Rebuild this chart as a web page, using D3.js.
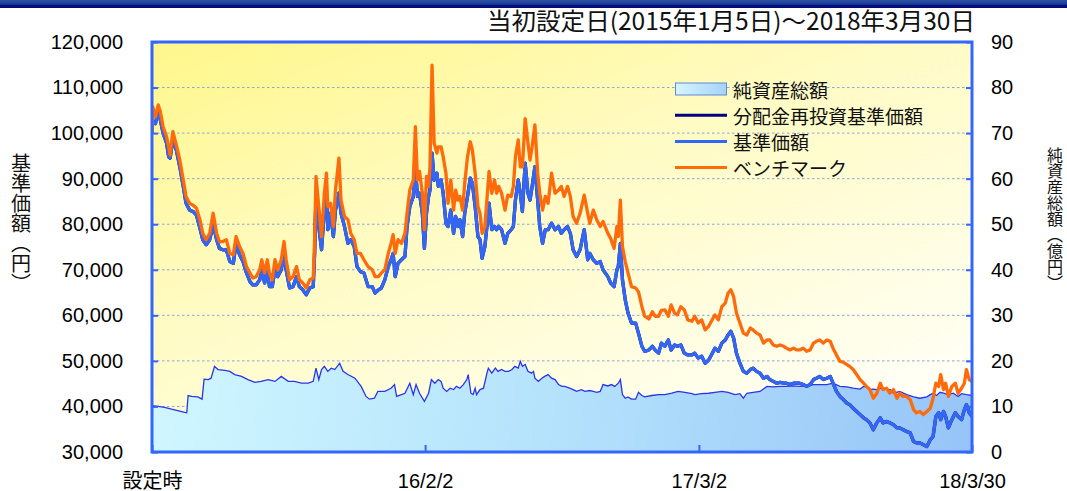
<!DOCTYPE html>
<html>
<head>
<meta charset="utf-8">
<script src="https://cdn.jsdelivr.net/npm/d3@7"></script>
<style>
  body { margin: 0; background: #ffffff; }
  svg { display: block; }
</style>
</head>
<body>
<svg id="chart" width="1067" height="491"></svg>
<script>
// ---- Data -----------------------------------------------------------------
const launchDate = "2015-01-05";
const titleText = "当初設定日(2015年1月5日)～2018年3月30日";
const seriesNames = ["純資産総額", "分配金再投資基準価額", "基準価額", "ベンチマーク"];
const leftTitle = "基準価額（円）";
const rightTitle = "純資産総額（億円）";

const xTickDates = ["2015-01-05", "2016-02-02", "2017-03-02", "2018-03-30"];
const xTickLabels = ["設定時", "16/2/2", "17/3/2", "18/3/30"];
const priceTicks = [30000, 40000, 50000, 60000, 70000, 80000, 90000, 100000, 110000, 120000];
const assetTicks = [0, 10, 20, 30, 40, 50, 60, 70, 80, 90];

// days since launch for the price series
const priceDays = [
  0,1,5,9,12,16,21,24,26,30,
  35,40,45,49,54,59,64,69,73,78,
  83,88,93,97,102,107,112,117,121,126,
  131,136,141,145,150,155,158,162,166,169,
  173,177,181,186,190,193,198,203,208,212,
  217,222,227,232,234,236,240,244,248,251,
  253,257,261,264,269,272,277,282,286,291,
  295,300,305,311,317,321,326,330,335,340,
  344,347,350,354,359,364,367,371,376,379,
  382,385,389,392,395,398,400,403,406,410,
  412,416,419,423,426,430,434,437,440,443,
  447,450,454,458,461,465,469,472,475,479,
  483,485,489,493,496,499,503,508,512,517,
  520,523,527,530,533,537,541,544,547,551,
  555,558,562,566,570,575,580,585,589,593,
  598,602,606,611,616,622,627,630,635,640,
  645,649,656,660,665,669,671,674,677,681,
  685,690,696,700,705,709,715,720,724,729,
  733,738,743,747,752,756,761,766,771,777,
  781,786,791,796,801,805,810,815,820,825,
  829,833,837,841,846,851,856,861,865,870,
  875,880,885,889,894,899,904,909,913,918,
  923,928,932,937,942,947,952,956,961,966,
  971,976,980,985,990,995,1000,1004,1009,1014,
  1019,1024,1028,1033,1038,1043,1048,1052,1057,1062,
  1067,1072,1076,1081,1086,1091,1096,1100,1105,1110,
  1115,1120,1124,1128,1132,1135,1139,1142,1146,1151,
  1156,1160,1165,1169,1172,1176,1180
];

// ベンチマーク (円)
const benchmark = [
  100000,105800,103600,106200,104700,101400,99200,97000,95200,100300,
  97400,94100,89700,86100,84600,84200,83500,81000,78000,76600,
  78000,82400,78000,76200,76200,76600,73600,73300,77300,75100,
  73600,70700,69300,68200,68500,70000,72200,69300,72200,69300,
  67800,72200,70000,72200,76200,72200,67800,68500,70700,67800,
  67100,66000,67800,68200,76600,90500,83900,77300,86800,91200,
  83900,84600,79500,87500,94500,85300,81700,81000,78000,76600,
  73600,73600,72200,70700,70000,68500,68500,69300,70000,73600,
  75800,77700,73600,76600,75800,78000,82400,87500,89700,101400,
  89700,91600,86800,78800,90500,88300,92600,114900,97800,95600,
  97000,97000,94800,91200,84600,89700,83100,87500,85300,86100,
  83100,89000,94800,98100,96300,91200,83900,82400,78000,79500,
  87500,91600,86800,89700,86800,88300,86800,83100,86400,86100,
  88300,94800,98500,92600,92600,103200,97800,94100,97000,101800,
  91200,86800,83100,86100,84600,91200,86800,87500,88300,86100,
  88300,86100,81700,80200,82400,86400,82400,80200,83100,81000,
  79500,80600,78000,76900,74700,79500,77300,85300,75100,71800,
  69300,66300,66000,65200,61900,59800,59200,60800,59800,59800,
  61100,61200,59800,62300,60500,60100,61900,61200,59000,58700,
  59800,58300,59000,56800,57600,58700,60100,59000,61900,62700,
  64900,65600,64100,60500,58300,56100,55700,57200,56800,56100,
  55700,53900,54600,54600,53500,53200,53500,53200,52800,52400,
  52800,52400,52400,52800,52100,52400,53900,54300,54600,53900,
  54600,54300,52800,51300,49900,49700,49200,48800,48100,47000,
  45900,45100,44400,43700,41800,42900,45100,43700,44000,42900,
  43700,41800,42900,42200,42200,41500,39300,38600,38900,38200,
  38900,39600,41800,45100,44400,47000,43700,45100,42200,44400,
  45100,42900,44000,45100,48100,45900,45500
];

// 基準価額 (円)
const nav = [
  100000,102500,102100,105100,102900,100000,97800,94800,94500,98500,
  96300,92600,88300,84600,83100,82800,82000,79100,76600,75500,
  76600,79900,76600,74700,74400,74400,71800,71400,75800,73300,
  71800,69300,67400,66700,66700,67800,70000,67100,69600,66300,
  66300,70000,68500,70000,73600,70000,66000,66300,68500,66300,
  65600,64500,66000,66300,73600,86800,79500,74400,83100,86100,
  78800,82400,77300,83100,86800,82400,79500,75800,76600,75100,
  70700,69600,69300,66300,66300,64900,65600,66000,67800,70700,
  72200,73600,68500,71400,72200,72900,79500,83900,86100,92600,
  86100,86800,82400,74700,82400,86100,87500,95600,89700,91200,
  88300,89700,86800,80200,79500,83100,78000,81700,79500,81000,
  77300,82400,86100,90100,89000,83900,77300,76600,72500,75100,
  81000,84600,78800,79500,78800,79500,78800,75800,78000,78800,
  79500,85300,89700,86800,82800,93400,86800,85300,88300,92600,
  85300,79500,75800,78800,78800,80200,78800,79500,78000,78800,
  79500,78000,74400,72900,74400,78800,72200,73600,72200,71400,
  71800,70000,68500,67100,66300,70000,70700,75800,67800,63400,
  60500,58300,58300,56100,53200,52100,52400,53200,52400,51700,
  53900,53200,54600,52400,53500,53200,53500,51700,51300,51300,
  51700,50600,51000,49500,50200,51300,52800,52100,53900,54600,
  55700,56500,55000,51700,49500,47700,47300,48100,48400,47700,
  47300,46200,46600,45900,45500,45100,45300,45100,45100,44800,
  45100,45100,45100,44800,44400,44800,45900,46200,46600,45900,
  46200,46600,45100,43300,42200,41500,40700,40400,39600,38900,
  38200,37500,37100,36400,34900,36400,37500,36400,36700,36400,
  36000,35300,35300,34900,34500,34200,32300,32000,32000,31600,
  31200,32700,33400,37800,38600,37100,38900,37800,35300,37100,
  38600,37800,37100,39300,40400,38600,37800
];

// 分配金再投資基準価額: no distributions were paid, so it equals the NAV
const navReinvested = nav.slice();

// days since launch for net assets
const assetDays = [
  0,9,18,28,37,47,50,52,57,66,
  72,75,81,85,90,95,105,112,119,129,
  138,148,157,167,177,186,196,205,215,225,
  232,236,240,244,248,253,258,263,270,275,
  282,292,301,308,313,320,325,335,344,349,
  352,359,364,371,376,380,385,392,398,402,
  407,412,416,419,424,429,434,438,443,448,
  453,455,459,462,465,467,472,477,482,484,
  489,494,498,503,508,513,518,522,527,530,
  533,537,541,546,549,551,556,561,565,570,
  575,580,585,590,594,601,606,611,618,623,
  630,635,640,645,649,656,661,666,671,674,
  677,681,685,690,696,700,705,709,719,729,
  738,748,757,767,777,781,791,801,810,820,
  829,839,846,851,856,865,875,885,894,904,
  913,923,932,942,952,961,971,980,990,1000,
  1009,1019,1024,1028,1033,1038,1043,1048,1052,1057,
  1062,1067,1076,1086,1096,1105,1115,1120,1124,1129,
  1134,1139,1146,1153,1160,1165,1172,1180
];

// 純資産総額 (億円)
const netAssets = [
  10.2,10.0,9.8,9.4,9.1,8.7,8.6,12.4,12.2,12.1,
  11.6,16.0,15.9,16.2,18.8,18.1,17.9,17.7,17.0,16.6,
  15.9,15.3,15.5,15.9,15.5,16.6,15.5,15.5,15.1,15.1,
  15.5,18.4,15.9,18.1,18.8,17.7,18.4,18.1,19.5,17.7,
  17.0,16.2,14.4,12.2,11.6,11.8,13.3,13.3,14.0,14.8,
  12.2,12.6,12.9,15.1,12.6,14.8,12.9,11.1,12.9,15.9,
  15.1,15.9,15.5,14.0,13.3,14.0,13.7,14.4,14.0,14.8,
  15.9,17.0,12.9,12.6,14.0,12.6,13.7,14.0,17.3,18.4,
  17.3,18.4,17.7,18.1,17.7,17.7,18.1,18.8,18.4,19.9,
  18.8,19.2,17.7,17.3,17.7,16.2,15.5,16.2,16.6,17.0,
  16.2,15.9,14.8,14.4,14.4,14.0,13.7,13.3,13.7,13.3,
  13.5,13.3,13.1,13.3,14.8,14.5,14.8,14.4,15.1,15.9,
  12.6,11.8,12.1,11.6,11.6,13.1,12.4,12.1,12.4,12.6,
  12.6,12.9,13.3,13.1,12.8,12.6,12.8,12.9,13.1,13.3,
  13.1,12.6,12.8,11.8,12.9,13.1,13.3,14.4,14.3,14.4,
  14.4,14.5,14.4,14.5,14.8,14.8,14.8,15.1,14.4,14.3,
  14.0,13.8,14.4,14.3,13.7,13.8,13.7,14.0,13.7,13.8,
  13.7,12.9,13.3,12.6,12.1,11.8,12.1,12.6,12.9,12.4,
  13.1,12.9,12.6,12.9,12.2,12.8,12.6,12.4
];

// ---- Setup ----------------------------------------------------------------
const svg = d3.select("#chart");
const plot = { left: 152, right: 972, top: 42, bottom: 452 };
const JP = "'Noto Sans CJK JP', sans-serif";
const NUM = "'Liberation Sans', Arial, 'Noto Sans CJK JP', sans-serif";

const launch = new Date(launchDate + "T00:00:00Z");
const toDate = d => d3.utcDay.offset(launch, d);
const tickDates = xTickDates.map(s => new Date(s + "T00:00:00Z"));

const x = d3.scaleUtc()
  .domain([tickDates[0], tickDates[tickDates.length - 1]])
  .range([plot.left, plot.right]);
const y = d3.scaleLinear()
  .domain([priceTicks[0], priceTicks[priceTicks.length - 1]])
  .range([plot.bottom, plot.top]);
const y2 = d3.scaleLinear()
  .domain([assetTicks[0], assetTicks[assetTicks.length - 1]])
  .range([plot.bottom, plot.top]);

const priceRows = values => priceDays.map((d, i) => ({ date: toDate(d), v: values[i] }));
const assetRows = assetDays.map((d, i) => ({ date: toDate(d), v: netAssets[i] }));

// ---- Defs -----------------------------------------------------------------
const defs = svg.append("defs");

const bg = defs.append("linearGradient").attr("id", "plotBg")
  .attr("x1", 0).attr("y1", 0).attr("x2", 0.75).attr("y2", 1);
bg.append("stop").attr("offset", 0).attr("stop-color", "#fff78a");
bg.append("stop").attr("offset", 0.45).attr("stop-color", "#fffbc4");
bg.append("stop").attr("offset", 1).attr("stop-color", "#fffff6");

const af = defs.append("linearGradient").attr("id", "assetFill")
  .attr("gradientUnits", "userSpaceOnUse")
  .attr("x1", plot.left).attr("y1", 360).attr("x2", plot.right).attr("y2", plot.bottom);
af.append("stop").attr("offset", 0).attr("stop-color", "#d0f7ff");
af.append("stop").attr("offset", 0.5).attr("stop-color", "#b4e2fc");
af.append("stop").attr("offset", 1).attr("stop-color", "#96c4f7");

const sw = defs.append("linearGradient").attr("id", "swatchFill")
  .attr("x1", 0).attr("y1", 0).attr("x2", 1).attr("y2", 0);
sw.append("stop").attr("offset", 0).attr("stop-color", "#d6f6ff");
sw.append("stop").attr("offset", 1).attr("stop-color", "#a6d2f8");

const tb = defs.append("linearGradient").attr("id", "topBar")
  .attr("x1", 0).attr("y1", 0).attr("x2", 0).attr("y2", 1);
tb.append("stop").attr("offset", 0).attr("stop-color", "#2d52a6");
tb.append("stop").attr("offset", 0.55).attr("stop-color", "#1a3a92");
tb.append("stop").attr("offset", 0.6).attr("stop-color", "#060f80");
tb.append("stop").attr("offset", 1).attr("stop-color", "#000a78");

defs.append("clipPath").attr("id", "plotClip")
  .append("rect")
  .attr("x", plot.left).attr("y", plot.top)
  .attr("width", plot.right - plot.left).attr("height", plot.bottom - plot.top);

// ---- Header ---------------------------------------------------------------
svg.append("rect").attr("x", 0).attr("y", 0).attr("width", 1067).attr("height", 8)
  .attr("fill", "url(#topBar)");

svg.append("text")
  .attr("x", 975).attr("y", 30)
  .attr("text-anchor", "end")
  .attr("font-family", JP).attr("font-size", 24)
  .attr("textLength", 488).attr("lengthAdjust", "spacingAndGlyphs")
  .attr("fill", "#111")
  .text(titleText);

// ---- Plot background and grid ----------------------------------------------
svg.append("rect")
  .attr("x", plot.left).attr("y", plot.top)
  .attr("width", plot.right - plot.left).attr("height", plot.bottom - plot.top)
  .attr("fill", "url(#plotBg)");

svg.append("g").selectAll("line")
  .data(priceTicks.slice(1, -1))
  .join("line")
  .attr("x1", plot.left).attr("x2", plot.right)
  .attr("y1", d => y(d)).attr("y2", d => y(d))
  .attr("stroke", "#8ea4da").attr("stroke-width", 1)
  .attr("stroke-dasharray", "2.5,2.5");

// ---- Series ---------------------------------------------------------------
const chartArea = svg.append("g").attr("clip-path", "url(#plotClip)");

const area = d3.area().x(d => x(d.date)).y0(plot.bottom).y1(d => y2(d.v));
const assetLine = d3.line().x(d => x(d.date)).y(d => y2(d.v));
chartArea.append("path").datum(assetRows).attr("d", area).attr("fill", "url(#assetFill)");
chartArea.append("path").datum(assetRows).attr("d", assetLine)
  .attr("fill", "none").attr("stroke", "#2a34e8").attr("stroke-width", 1.3);

const priceLine = d3.line().x(d => x(d.date)).y(d => y(d.v));
const lineSeries = [
  { values: navReinvested, color: "#000080" },
  { values: nav, color: "#3366f2" },
  { values: benchmark, color: "#ff6a0a" }
];
lineSeries.forEach(s => {
  chartArea.append("path").datum(priceRows(s.values)).attr("d", priceLine)
    .attr("fill", "none").attr("stroke", s.color).attr("stroke-width", 3.3)
    .attr("stroke-linejoin", "round");
});

// ---- Frame and axes -------------------------------------------------------
svg.append("rect")
  .attr("x", plot.left).attr("y", plot.top)
  .attr("width", plot.right - plot.left).attr("height", plot.bottom - plot.top)
  .attr("fill", "none").attr("stroke", "#3366ff").attr("stroke-width", 3);

function styleAxis(g) {
  g.select(".domain").remove();
  g.selectAll(".tick line").attr("stroke", "#3366ff").attr("stroke-width", 2);
  g.selectAll(".tick text").attr("fill", "#000");
  g.attr("font-family", NUM).attr("font-size", 20);
}

svg.append("g")
  .attr("transform", `translate(${plot.left},0)`)
  .call(d3.axisLeft(y).tickValues(priceTicks).tickFormat(d3.format(",")).tickSize(-6).tickPadding(29))
  .call(styleAxis);

svg.append("g")
  .attr("transform", `translate(${plot.right},0)`)
  .call(d3.axisRight(y2).tickValues(assetTicks).tickSize(-6).tickPadding(19))
  .call(styleAxis);

svg.append("g")
  .attr("transform", `translate(0,${plot.bottom})`)
  .call(d3.axisBottom(x).tickValues(tickDates).tickFormat((d, i) => xTickLabels[i]).tickSize(-7).tickPadding(22))
  .call(styleAxis);

// ---- Axis titles (vertical writing) -----------------------------------------
function verticalTitle(label, cx, top, size) {
  svg.append("text")
    .attr("x", cx).attr("y", top)
    .attr("font-family", JP).attr("font-size", size).attr("fill", "#111")
    .style("writing-mode", "vertical-rl")
    .style("text-orientation", "mixed")
    .text(label);
}
verticalTitle(leftTitle, 21, 153, 20);
verticalTitle(rightTitle, 1055, 147, 16);

// ---- Legend ---------------------------------------------------------------
const legend = svg.append("g").attr("font-family", JP).attr("font-size", 19).attr("fill", "#111");
const rowY = i => 89 + i * 26.2;
legend.append("rect")
  .attr("x", 675.5).attr("y", rowY(0) - 6).attr("width", 51).attr("height", 12)
  .attr("fill", "url(#swatchFill)").attr("stroke", "#5f8ad8").attr("stroke-width", 1);
lineSeries.forEach((s, i) => {
  legend.append("line")
    .attr("x1", 675).attr("x2", 727)
    .attr("y1", rowY(i + 1)).attr("y2", rowY(i + 1))
    .attr("stroke", s.color).attr("stroke-width", 3);
});
seriesNames.forEach((name, i) => {
  legend.append("text")
    .attr("x", 733).attr("y", rowY(i))
    .attr("dominant-baseline", "central")
    .text(name);
});
</script>
</body>
</html>
